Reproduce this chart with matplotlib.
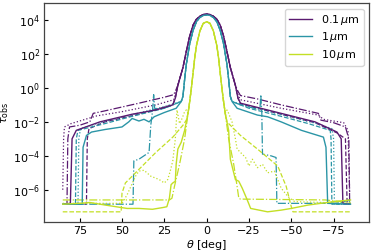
import numpy as np
import matplotlib
matplotlib.use("Agg")
import matplotlib.pyplot as plt

# ---- data: theta [deg] and log10(tau_obs) ----
# central peaks (left half, theta >= 0); mirrored for right half
peak_p_theta = [17, 16, 14, 12, 10, 8, 6, 4, 2, 0]
peak_p_log   = [0.15, 0.5, 1.2, 2.15, 3.05, 3.7, 4.05, 4.22, 4.32, 4.35]
peak_t_theta = [14, 13, 12, 10, 8, 6, 4, 2, 0]
peak_t_log   = [-0.5, 0.5, 1.4, 2.6, 3.4, 3.9, 4.15, 4.27, 4.3]
peak_y_theta = [11, 10, 9, 8, 7, 6, 4, 2, 0]
peak_y_log   = [-1.5, -0.8, 0.0, 0.9, 1.8, 2.5, 3.35, 3.8, 3.9]

# purple (0.1 um)
p_solid_L_theta = [84, 80.5, 79.5, 77, 63, 44, 30, 20, 18.5]
p_solid_L_log   = [-6.85, -6.8, -3.0, -2.5, -2.0, -1.55, -1.3, -1.0, -0.6]
p_solid_R_theta = [-18.5, -20, -44, -64, -77, -79.5, -80.5, -84]
p_solid_R_log   = [-0.6, -0.9, -1.5, -2.0, -2.6, -3.0, -6.8, -6.85]

p_dashdot_L_theta = [85, 82.5, 82, 81, 75, 69, 67, 60, 40, 25, 19.5, 18.5]
p_dashdot_L_log   = [-6.85, -6.85, -3.0, -2.3, -2.2, -2.0, -1.5, -1.35, -0.9, -0.55, -0.4, -0.2]
p_dashdot_R_theta = [-18.5, -20, -30, -44, -66, -67.5, -75, -82, -84, -84.5, -86]
p_dashdot_R_log   = [-0.2, -0.45, -0.65, -1.0, -1.5, -1.9, -2.05, -2.3, -3.0, -6.8, -6.85]

p_dotted_L_theta = [85, 84.5, 84, 80, 65, 50, 30, 19.5, 18.5]
p_dotted_L_log   = [-6.0, -3.0, -2.3, -2.1, -1.65, -1.4, -1.0, -0.7, -0.4]
p_dotted_R_theta = [-18.5, -20, -44, -66, -69, -81, -83.5, -84.5]
p_dotted_R_log   = [-0.4, -0.7, -1.2, -1.6, -1.85, -2.05, -2.5, -6.2]

p_dashed_L_theta = [84, 71, 70.5, 69.5, 60, 40, 20, 18.5]
p_dashed_L_log   = [-6.85, -6.85, -3.0, -2.4, -2.0, -1.55, -1.0, -0.6]
p_dashed_R_theta = [-18.5, -20, -44, -64, -77, -82, -83, -85]
p_dashed_R_log   = [-0.6, -0.95, -1.55, -2.05, -2.65, -3.0, -6.8, -6.85]

# teal (1 um)
t_solid_L_theta = [85, 73.5, 73, 71, 68, 60, 50, 46, 44, 40, 37, 34, 31, 25, 18, 15]
t_solid_L_log   = [-6.85, -6.85, -3.5, -2.8, -2.6, -2.45, -2.3, -2.0, -1.8, -1.95, -1.85, -2.0, -1.7, -1.45, -1.2, -0.8]
t_solid_R_theta = [-15, -18, -30, -36, -44, -56, -69, -70.5, -71.5, -85]
t_solid_R_log   = [-0.8, -1.2, -1.6, -1.7, -2.0, -2.5, -2.9, -3.5, -6.8, -6.85]

t_dashdot_L_theta = [85, 43.5, 43, 40, 37, 34, 33, 32, 31.3, 30.7, 28, 20, 15]
t_dashdot_L_log   = [-6.85, -6.85, -4.3, -4.2, -4.0, -3.8, -2.2, -1.4, -0.4, -1.2, -1.3, -1.0, -0.8]
t_dashdot_R_theta = [-15, -20, -30, -31.5, -32, -32.6, -33, -38, -41, -41.5, -75, -80, -84, -85]
t_dashdot_R_log   = [-0.8, -1.0, -1.25, -1.2, -0.4, -1.5, -3.9, -4.0, -4.1, -6.8, -6.8, -6.75, -6.6, -6.85]

t_dotted_L_theta = [85, 76, 75.5, 74.5, 65, 45, 25, 15]
t_dotted_L_log   = [-6.85, -6.85, -3.0, -2.4, -2.1, -1.6, -1.1, -0.8]
t_dotted_R_theta = [-15, -25, -45, -65, -74, -75, -75.5, -85]
t_dotted_R_log   = [-0.8, -1.1, -1.6, -2.1, -2.4, -3.0, -6.85, -6.85]

t_dashed_L_theta = [85, 77.5, 77, 76, 60, 45, 25, 15]
t_dashed_L_log   = [-6.85, -6.85, -3.0, -2.5, -2.1, -1.7, -1.2, -0.8]
t_dashed_R_theta = [-15, -25, -45, -60, -73, -73.5, -74, -85]
t_dashed_R_log   = [-0.8, -1.2, -1.7, -2.1, -2.5, -3.0, -6.85, -6.85]

# yellow (10 um)
y_solid_L_theta = [85, 75, 69, 60, 47, 40, 32, 26, 23.5, 22, 21, 20, 18.5, 18, 17, 15, 13]
y_solid_L_log   = [-6.85, -6.8, -6.75, -6.9, -7.1, -7.1, -7.15, -7.05, -7.0, -6.5, -5.7, -5.6, -5.5, -4.5, -3.6, -3.2, -2.5]
y_solid_R_theta = [-13, -14, -16, -17, -19, -21, -24, -26, -36, -44, -50, -60, -75, -85]
y_solid_R_log   = [-2.5, -4.2, -5.0, -5.4, -5.5, -5.9, -6.6, -7.1, -7.3, -7.2, -7.1, -6.9, -6.7, -6.6]

y_dashdot_L_theta = [85, 22, 20.5, 19, 16, 13]
y_dashdot_L_log   = [-6.6, -6.6, -6.5, -5.8, -4.5, -3.0]
y_dashdot_R_theta = [-13, -16, -18, -19, -20, -70, -80, -85]
y_dashdot_R_log   = [-3.0, -4.5, -5.8, -6.5, -6.55, -6.6, -6.7, -6.75]

y_dashed_L_theta = [85, 50.5, 50, 48, 40, 30, 20, 14, 12]
y_dashed_L_log   = [-7.3, -7.3, -6.2, -5.6, -4.8, -3.8, -2.9, -2.2, -1.9]
y_dashed_R_theta = [-12, -20, -30, -42, -47, -50, -51, -85]
y_dashed_R_log   = [-2.0, -2.8, -3.6, -4.6, -5.8, -7.0, -7.3, -7.3]

y_dotted_L_theta = [85, 50, 47, 42, 40, 37, 33, 28, 25, 23, 21.5, 20, 18.5, 17.5, 16, 14.5, 13, 12]
y_dotted_L_log   = [-6.8, -6.8, -6.3, -5.2, -4.9, -4.85, -5.2, -5.4, -5.6, -5.4, -4.9, -4.3, -3.0, -1.3, -2.1, -1.8, -1.4, -1.3]
y_dotted_R_theta = [-12, -13, -15, -17, -18, -21, -23, -25, -27, -30, -33, -36, -40, -44, -48, -52, -85]
y_dotted_R_log   = [-1.3, -1.5, -2.0, -3.0, -3.6, -3.9, -4.1, -4.6, -4.2, -4.7, -4.5, -5.0, -4.9, -5.9, -6.4, -6.7, -6.8]

sizes = ["0.1$\\,\\mu$m", "1$\\,\\mu$m", "10$\\,\\mu$m"]
colors = ["#5a1a70", "#2b95a6", "#c3df25"]


def full(Lt, Ll, pt, pl, Rt, Rl):
    # left wing, peak (left half + mirrored right half), right wing
    th = list(Lt) + list(pt) + [-v for v in pt[::-1][1:]] + list(Rt)
    lg = list(Ll) + list(pl) + list(pl[::-1][1:]) + list(Rl)
    return np.array(th, float), 10.0 ** np.array(lg, float)


series = [
    # (color idx, linestyle, left, peak, right)
    (0, "-.", p_dashdot_L_theta, p_dashdot_L_log, peak_p_theta, peak_p_log, p_dashdot_R_theta, p_dashdot_R_log),
    (0, ":", p_dotted_L_theta, p_dotted_L_log, peak_p_theta, peak_p_log, p_dotted_R_theta, p_dotted_R_log),
    (0, "--", p_dashed_L_theta, p_dashed_L_log, peak_p_theta, peak_p_log, p_dashed_R_theta, p_dashed_R_log),
    (1, "-.", t_dashdot_L_theta, t_dashdot_L_log, peak_t_theta, peak_t_log, t_dashdot_R_theta, t_dashdot_R_log),
    (1, ":", t_dotted_L_theta, t_dotted_L_log, peak_t_theta, peak_t_log, t_dotted_R_theta, t_dotted_R_log),
    (1, "--", t_dashed_L_theta, t_dashed_L_log, peak_t_theta, peak_t_log, t_dashed_R_theta, t_dashed_R_log),
    (2, "-.", y_dashdot_L_theta, y_dashdot_L_log, peak_y_theta, peak_y_log, y_dashdot_R_theta, y_dashdot_R_log),
    (2, ":", y_dotted_L_theta, y_dotted_L_log, peak_y_theta, peak_y_log, y_dotted_R_theta, y_dotted_R_log),
    (2, "--", y_dashed_L_theta, y_dashed_L_log, peak_y_theta, peak_y_log, y_dashed_R_theta, y_dashed_R_log),
]
solids = [
    (0, p_solid_L_theta, p_solid_L_log, peak_p_theta, peak_p_log, p_solid_R_theta, p_solid_R_log),
    (1, t_solid_L_theta, t_solid_L_log, peak_t_theta, peak_t_log, t_solid_R_theta, t_solid_R_log),
    (2, y_solid_L_theta, y_solid_L_log, peak_y_theta, peak_y_log, y_solid_R_theta, y_solid_R_log),
]

plt.rcParams["font.size"] = 8
fig = plt.figure(figsize=(3.74, 2.52), dpi=100)
ax = fig.add_axes([0.118, 0.119, 0.869, 0.869])

for ci, ls, Lt, Ll, pt, pl, Rt, Rl in series:
    th, tau = full(Lt, Ll, pt, pl, Rt, Rl)
    ax.plot(th, tau, ls=ls, color=colors[ci], lw=0.9)
for ci, Lt, Ll, pt, pl, Rt, Rl in solids:
    th, tau = full(Lt, Ll, pt, pl, Rt, Rl)
    ax.plot(th, tau, ls="-", color=colors[ci], lw=1.0, label=sizes[ci])

ax.set_yscale("log")
ax.set_xlim(96, -96)
ax.set_ylim(10 ** -7.9, 10 ** 5.0)
ax.set_xticks([75, 50, 25, 0, -25, -50, -75])
ax.set_yticks([1e-6, 1e-4, 1e-2, 1e0, 1e2, 1e4])
ax.minorticks_off()
ax.tick_params(direction="in", length=3, width=0.8, labelsize=8, pad=3)
for s in ax.spines.values():
    s.set_color("#444444")
    s.set_linewidth(0.9)
ax.set_xlabel(r"$\theta$ [deg]", fontsize=8, labelpad=1)
ax.set_ylabel(r"$\tau_{\rm obs}$", fontsize=8, labelpad=1)
ax.legend(loc="upper right", fontsize=8, handlelength=2.0, borderpad=0.4,
          labelspacing=0.3, framealpha=0.8)

fig.savefig("out.png", dpi=100)
